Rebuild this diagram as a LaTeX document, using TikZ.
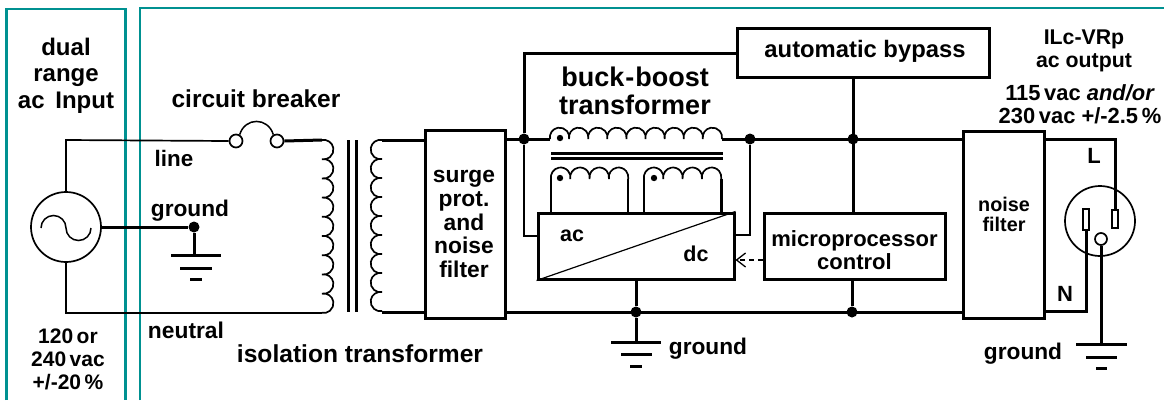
\documentclass[tikz,border=0pt]{standalone}
\usepackage{fontspec}
\setmainfont{Liberation Sans}
\usetikzlibrary{arrows.meta}
\definecolor{teal1}{RGB}{0,145,145}
\definecolor{ink}{RGB}{0,0,0}
\newcommand{\coil}[6]{% start coord, count, radius, start angle, end angle, style
  \draw[#6] (#1) \foreach \i in {1,...,#2} { arc[start angle=#4,end angle=#5,radius=#3 pt] };}
\newcommand{\fs}[2]{\fontsize{#1}{#2}\selectfont\bfseries}
\tikzset{
  frame/.style={draw=teal1,line width=#1},
  thick wire/.style={draw=ink,line width=3pt},
  thin wire/.style={draw=ink,line width=1.7pt},
  block/.style={draw=ink,line width=3pt,fill=white,inner sep=0pt,align=center},
  lbl/.style={inner sep=0pt,align=center},
  junction/.style={circle,fill=ink,inner sep=0pt,minimum size=11pt},
  ring/.style={circle,draw=ink,line width=1.7pt,fill=white,inner sep=0pt,minimum size=#1},
  gbar/.style={draw=ink,line width=3pt},
}
\begin{document}
\begin{tikzpicture}[x=1pt,y=-1pt]
\useasboundingbox (0,0) rectangle (1164,400);
% frames
\draw[frame=2.6pt] (6.5,400) -- (6.5,9) -- (125.5,9) -- (125.5,400);
\draw[frame=2pt] (140,400) -- (140,8) -- (1164,8);
% source side
\node[ring=70pt] (src) at (66,227) {};
\draw[line width=1.5pt] (41,228) arc[start angle=180,end angle=0,radius=12.5pt] arc[start angle=180,end angle=360,radius=12.5pt];
\node[ring=13pt] (cbl) at (236,141) {};
\node[ring=13pt] (cbr) at (277,141) {};
\draw[thin wire,line width=1.5pt] (cbl.60) .. controls (245,117) and (268,117) .. (cbr.120);
\draw[thin wire,line join=miter] (src.north) -- (66,140) -- (cbl.west);
\coordinate (pt) at (322,140);
\coordinate (pb) at (322,313);
\draw[thick wire] (cbr.east) -- (pt);
\coil{pt}{9}{9.75}{100}{-100}{thin wire}
\draw[thin wire] (src.south) -- (66,313) -- (pb);
\node[junction] (gj) at (194,227) {};
\draw[thick wire] (src.east) -- (gj);
\coordinate (g1) at (194,255);
\draw[thick wire] (gj.south) -- (g1);
\draw[gbar] (171,255) -- (221,255) (180,268) -- (212,268) (190,279) -- (202,279);
% isolation core
\draw[thick wire] (348,140) -- (348,312) (356,140) -- (356,312);
% boxes
\node[block,minimum width=80pt,minimum height=188pt] (surge) at (465,224) {};
\node[block,minimum width=196pt,minimum height=66pt] (conv) at (636,246) {};
\node[block,minimum width=252pt,minimum height=49pt] (bypass) at (863,52.5) {};
\node[block,minimum width=181pt,minimum height=66pt] (micro) at (854.5,246) {};
\node[block,minimum width=81pt,minimum height=187pt] (nf) at (1004,224.5) {};
\node[lbl,font=\fs{23.8}{26}] at (865,51.5) {automatic bypass};
\node[lbl,font=\fs{22}{23}] at (854.5,250) {microprocessor\\control};
\node[lbl,font=\fs{22.8}{23.8}] at (464,224) {surge\\prot.\\and\\noise\\filter};
\node[lbl,font=\fs{19.8}{20}] at (1004,214) {noise\\filter};
% secondary
\coordinate (st) at (382,140);
\coordinate (sb) at (382,312);
\coil{st}{9}{9.65}{80}{280}{thin wire}
\draw[thick wire] (st) -- (surge.west|-st);
\draw[thick wire] (sb) -- (surge.west|-sb);
% main bus
\coordinate (bt) at (550,139);
\coordinate (be) at (722,139);
\node[junction] (j1) at (524,139) {};
\node[junction] (j2) at (750,139) {};
\node[junction] (j3) at (853,139) {};
\node[junction] (j4) at (636,312) {};
\node[junction] (j5) at (852,312) {};
\draw[thick wire] (surge.east|-bt) -- (bt);
\coil{bt}{9}{9.7}{190}{-10}{thin wire}
\draw[thick wire] (be) -- (nf.west|-be);
\draw[thick wire] (surge.east|-j4) -- (nf.west|-j4);
\draw[thick wire] (j1) -- (524,53) -- (bypass.west|-0,53);
\draw[thin wire,line width=2pt] (j1) -- (524,236) -- (conv.west|-0,236);
\draw[thin wire,line width=2pt] (j2) -- (750,235) -- (conv.east|-0,235);
\draw[thick wire] (bypass.south-|j3) -- (micro.north-|j3);
\draw[thick wire] (micro.south-|j5) -- (j5);
% buck-boost core and sub windings
\draw[thick wire] (551,153) -- (723,153) (551,158.5) -- (723,158.5);
\coordinate (a1) at (551,179);
\coordinate (a2) at (628,179);
\coordinate (b1) at (644,179);
\coordinate (b2) at (721.5,179);
\coil{a1}{4}{9.8}{190}{-10}{thin wire}
\coil{b1}{4}{9.8}{190}{-10}{thin wire}
\draw[thin wire,line width=2.4pt] (a1) -- (a1|-conv.north) (a2) -- (a2|-conv.north) (b1) -- (b1|-conv.north) (b2) -- (b2|-conv.north);
\fill[ink] (560,138) circle[radius=3.2pt] (560,178) circle[radius=3.2pt] (654,178) circle[radius=3.2pt];
% converter
\draw[line width=1.2pt] (conv.south west) -- (conv.north east);
\node[lbl,font=\fs{21.5}{23}] at (572,236) {ac};
\node[lbl,font=\fs{21.5}{23}] at (696,254) {dc};
\draw[thick wire] (conv.south) -- (j4);
\draw[thin wire,dash pattern=on 5pt off 4pt,-{Straight Barb[length=9pt,width=14pt,line width=1.3pt]}] (micro.west|-0,260) -- (conv.east|-0,260);
% grounds
\draw[thick wire] (j4) -- (636,342);
\draw[gbar] (611,342) -- (661,342) (621,354) -- (652,354) (630,366) -- (642,366);
% outlet
\node[ring=70pt] (out) at (1100,221) {};
\node[draw=ink,line width=1.7pt,fill=white,minimum width=6pt,minimum height=21pt,inner sep=0pt] (bn) at (1086,219.5) {};
\node[draw=ink,line width=1.7pt,fill=white,minimum width=6pt,minimum height=18pt,inner sep=0pt] (bl) at (1115,219) {};
\node[ring=12pt] (bg) at (1101,239) {};
\draw[thick wire] (nf.east|-0,139) -- (1115,139) -- (bl.north);
\draw[thick wire] (nf.east|-0,311) -- (1086,311) -- (bn.south);
\draw[thick wire] (bg.south) -- (1101,344);
\draw[gbar] (1076,344) -- (1127,344) (1086,357) -- (1117,357) (1096,368) -- (1107,368);
% labels
\node[lbl,font=\fs{24}{26.5}] at (66,75.5) {dual\\range\\ac\, Input};
\node[lbl,font=\fs{24.5}{26}] at (256,99) {circuit breaker};
\node[lbl,font=\fs{22.4}{24}] at (174,158) {line};
\node[lbl,font=\fs{22.7}{24}] at (190,211) {ground};
\node[lbl,font=\fs{22.8}{24}] at (186,330.5) {neutral};
\node[lbl,font=\fs{24.6}{26}] at (360,354) {isolation transformer};
\node[lbl,font=\fs{21}{23}] at (68,359) {120\,or\\240\,vac\\+/-20\,\%};
\node[lbl,font=\fs{27}{28}] at (635,91) {buck\kern1pt-\kern1pt boost\\transformer};
\node[lbl,font=\fs{22.7}{24}] at (708,348.5) {ground};
\node[lbl,font=\fs{22.7}{24}] at (1023,353.5) {ground};
\node[lbl,font=\fs{21.3}{23}] at (1084,50.5) {ILc-VRp\\ac output};
\node[lbl,font=\fs{21.9}{23}] at (1080,104) {115\,vac \textit{and/or}\\230\,vac +/-2.5\,\%};
\node[lbl,font=\fs{22}{24}] at (1094,156) {L};
\node[lbl,font=\fs{22}{24}] at (1065,294) {N};
\end{tikzpicture}
\end{document}
